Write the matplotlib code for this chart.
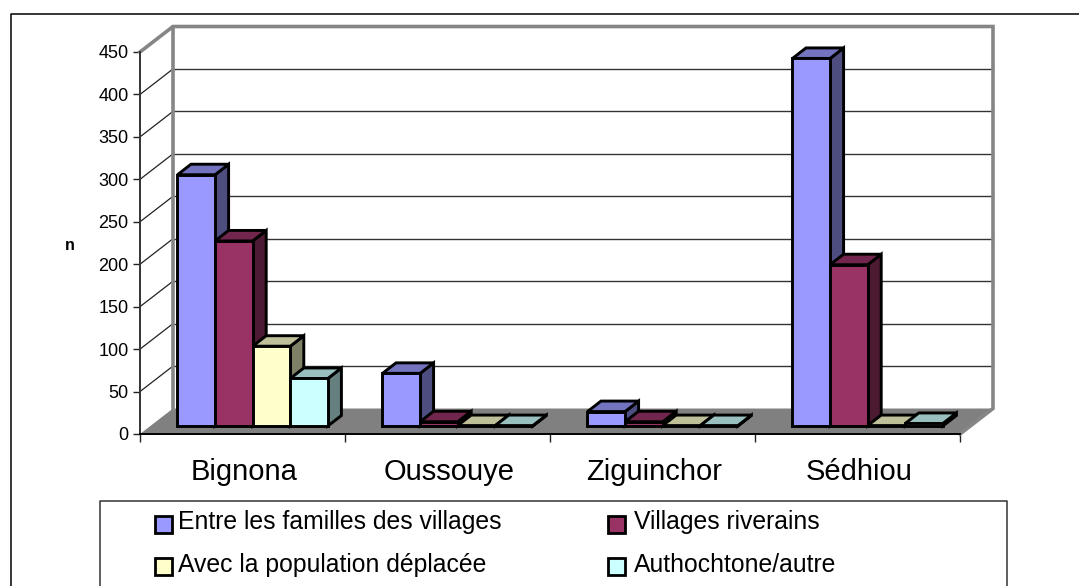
import matplotlib
matplotlib.use("Agg")
import matplotlib.pyplot as plt
import numpy as np
from matplotlib.patches import Polygon, Rectangle
from matplotlib.lines import Line2D

plt.rcParams['font.family'] = ['Liberation Sans', 'DejaVu Sans']

# Donnees
districts = ["Bignona", "Oussouye", "Ziguinchor", "Sédhiou"]
familles = [296, 62, 17, 433]
riverains = [218, 5, 5, 190]
deplacee = [94, 0.5, 0.5, 0.5]
autochtone = [56, 0.5, 0.5, 3]
yticks = [0, 50, 100, 150, 200, 250, 300, 350, 400, 450]

series_names = ["Entre les familles des villages", "Villages riverains",
                "Avec la population déplacée", "Authochtone/autre"]
series = [familles, riverains, deplacee, autochtone]
front_cols = ["#9999ff", "#993366", "#ffffcc", "#ccffff"]
top_cols = ["#7373bf", "#73264d", "#bfbf99", "#99bfbf"]
side_cols = ["#4d4d80", "#4d1a33", "#808066", "#668080"]

W, H = 1079, 586
fig = plt.figure(figsize=(W / 100, H / 100), dpi=100)

# axes calé sur la face avant du graphique
ax = fig.add_axes([140 / W, 1 - 434 / H, 820 / W, 382 / H])
ax.set_xlim(0, 4)
ax.set_ylim(0, 450)
ax.patch.set_visible(False)
for s in ax.spines.values():
    s.set_visible(False)

px_x = 4 / 820.0   # unites x par pixel
px_y = 450 / 382.0  # unites y par pixel
wall_dx, wall_dy = 33 * px_x, 25.5 * px_y
bar_dx, bar_dy = 13.5 * px_x, 10.5 * px_y
bar_w = 37.6 * px_x
x_start = 37.5 * px_x
base = 8 * px_y

gray = "#868686"
edge_lw = 2.1

# grille sur le mur du fond et la paroi gauche
for t in yticks[1:-1]:
    ax.plot([wall_dx, 4 + wall_dx], [t + wall_dy, t + wall_dy], color="#333333", lw=1, clip_on=False, zorder=1)
    ax.plot([0, wall_dx], [t, t + wall_dy], color="#222222", lw=0.9, clip_on=False, zorder=1)

# sol gris
ax.add_patch(Polygon([(0, 0), (4, 0), (4 + wall_dx, wall_dy), (wall_dx, wall_dy)],
                     closed=True, fc="#808080", ec="none", clip_on=False, zorder=2))

# cadre gris des parois
ax.plot([0, wall_dx, 4 + wall_dx, 4 + wall_dx, 4],
        [450, 450 + wall_dy, 450 + wall_dy, wall_dy, 0],
        color=gray, lw=2.6, clip_on=False, zorder=2, solid_joinstyle="miter")
ax.plot([wall_dx, wall_dx], [wall_dy, 450 + wall_dy], color=gray, lw=2.6, clip_on=False, zorder=2)

# barres : face avant, dessus, cote
z = 3
for i in range(len(districts)):
    for j, vals in enumerate(series):
        x0 = i + x_start + j * bar_w
        x1 = x0 + bar_w
        y1 = base + vals[i]
        ax.add_patch(Polygon([(x1, base), (x1 + bar_dx, base + bar_dy), (x1 + bar_dx, y1 + bar_dy), (x1, y1)],
                             closed=True, fc=side_cols[j], ec="black", lw=edge_lw, clip_on=False, zorder=z,
                             joinstyle="miter"))
        ax.add_patch(Polygon([(x0, y1), (x0 + bar_dx, y1 + bar_dy), (x1 + bar_dx, y1 + bar_dy), (x1, y1)],
                             closed=True, fc=top_cols[j], ec="black", lw=edge_lw, clip_on=False, zorder=z,
                             joinstyle="miter"))
        ax.bar(x0, vals[i], bar_w, bottom=base, align="edge", color=front_cols[j],
               edgecolor="black", linewidth=edge_lw, clip_on=False, zorder=z)
        z += 1

# axes
ax.spines["left"].set_visible(True)
ax.spines["left"].set_color("#333333")
ax.spines["left"].set_linewidth(1.4)
ax.spines["bottom"].set_visible(True)
ax.spines["bottom"].set_color("black")
ax.spines["bottom"].set_linewidth(1.4)
ax.spines["left"].set_zorder(50)
ax.spines["bottom"].set_zorder(50)
ax.set_yticks(yticks)
ax.tick_params(axis="y", length=7.5 * 0.72, width=1, color="#222222", labelsize=13, pad=2.8, labelcolor="black")
ax.set_xticks(range(5))
ax.set_xticklabels([""] * 5)
ax.tick_params(axis="x", length=8 * 0.72, width=1, color="#222222")
ax.set_xticks(np.arange(4) + 0.5 + 2 * px_x, minor=True)
ax.set_xticklabels(districts, minor=True, fontsize=21)
ax.tick_params(axis="x", which="minor", length=0, pad=17, labelcolor="black")

# titre d'axe et cadres, en pixels de la figure
fig.text(70 / W, 1 - 245 / H, "n", fontsize=11.5, fontweight="bold", ha="center", va="center")

# le cadre exterieur est coupe a droite et en bas
frame = Line2D([10.5 / W, 10.5 / W, 1], [0, 1 - 13.5 / H, 1 - 13.5 / H],
               transform=fig.transFigure, color="black", lw=1.1)
fig.add_artist(frame)
leg_box = Line2D([99.5 / W, 99.5 / W, 1006.5 / W, 1006.5 / W], [0, 1 - 501 / H, 1 - 501 / H, 0],
                 transform=fig.transFigure, color="#333333", lw=1.1)
fig.add_artist(leg_box)

# legende a la main pour placer les cases comme sur l'original
leg_x = [155, 608]
leg_tx = [178, 634]
leg_y = [529.5, 572]
for k, name in enumerate(series_names):
    col, row = k % 2, k // 2
    sx, sy = leg_x[col], leg_y[row]
    fig.add_artist(Rectangle((sx / W, 1 - (sy + 3) / H), 17 / W, 17 / H, transform=fig.transFigure,
                             fc=front_cols[k], ec="black", lw=2))
    fig.text(leg_tx[col] / W, 1 - sy / H, name, fontsize=17.8, ha="left", va="baseline", color="black")

fig.savefig("out.png", dpi=100, facecolor="white")
